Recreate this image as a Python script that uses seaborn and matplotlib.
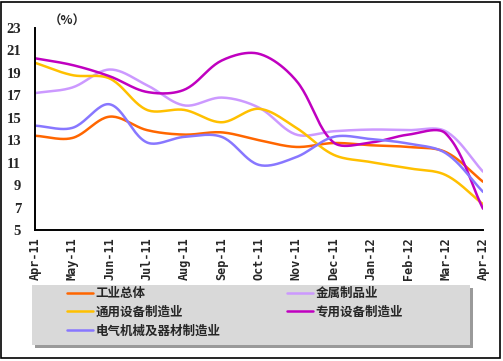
import numpy as np
import pandas as pd
import matplotlib
matplotlib.use("Agg")
import matplotlib.pyplot as plt
import seaborn as sns
from matplotlib.patches import Rectangle

months = ["Apr-11", "May-11", "Jun-11", "Jul-11", "Aug-11", "Sep-11", "Oct-11",
          "Nov-11", "Dec-11", "Jan-12", "Feb-12", "Mar-12", "Apr-12"]
series_names = ["工业总体", "金属制品业", "通用设备制造业", "专用设备制造业", "电气机械及器材制造业"]
industry_total = [13.4, 13.2, 15.1, 13.9, 13.5, 13.7, 13.0, 12.4, 12.75, 12.55, 12.4, 11.95, 9.3]
metal_products = [17.2, 17.7, 19.3, 17.9, 16.1, 16.8, 15.9, 13.5, 13.8, 13.95, 13.9, 13.8, 10.2]
general_equip = [19.9, 18.8, 18.5, 15.7, 15.7, 14.6, 15.8, 14.1, 11.7, 11.05, 10.5, 9.9, 7.3]
special_equip = [20.3, 19.7, 18.7, 17.3, 17.5, 20.1, 20.7, 18.3, 12.8, 12.8, 13.5, 13.6, 6.9]
electrical = [14.3, 14.1, 16.2, 12.8, 13.3, 13.3, 10.8, 11.5, 13.3, 13.1, 12.7, 11.85, 8.4]
yticks = [5, 7, 9, 11, 13, 15, 17, 19, 21, 23]

colors = {"工业总体": "#FF6600", "金属制品业": "#CC99FF", "通用设备制造业": "#FFC000",
          "专用设备制造业": "#C000C0", "电气机械及器材制造业": "#8877FF"}
values = dict(zip(series_names, [industry_total, metal_products, general_equip,
                                 special_equip, electrical]))


def smooth(y, n=24, sx=37.3, sy=11.2):
    """Chord-weighted Bezier smoothing (similar to spreadsheet 'smoothed line')."""
    y = np.asarray(y, float)
    x = np.arange(len(y), dtype=float)
    P = np.column_stack([x, y])
    m = len(y)
    scale = np.array([sx, sy])
    d = np.linalg.norm((P[1:] - P[:-1]) * scale, axis=1)  # segment lengths
    c_out = np.zeros_like(P)
    c_in = np.zeros_like(P)
    c_out[0] = (P[1] - P[0]) / 3
    c_in[-1] = (P[-1] - P[-2]) / 3
    for i in range(1, m - 1):
        tan = P[i + 1] - P[i - 1]
        din, dout = d[i - 1], d[i]
        c_out[i] = tan * dout / (din + dout) / 3
        c_in[i] = tan * din / (din + dout) / 3
    xs, ys = [], []
    t = np.linspace(0, 1, n, endpoint=False)[:, None]
    for i in range(m - 1):
        B0, B3 = P[i], P[i + 1]
        B1, B2 = P[i] + c_out[i], P[i + 1] - c_in[i + 1]
        B = ((1 - t) ** 3) * B0 + 3 * ((1 - t) ** 2) * t * B1 + 3 * (1 - t) * t ** 2 * B2 + t ** 3 * B3
        xs.append(B[:, 0])
        ys.append(B[:, 1])
    xs.append([x[-1]])
    ys.append([y[-1]])
    return np.concatenate(xs), np.concatenate(ys)


rows = []
for name in series_names:
    xs, ys = smooth(values[name])
    rows.append(pd.DataFrame({"x": xs, "y": ys, "series": name}))
df = pd.concat(rows, ignore_index=True)

sns.set_style("white")
plt.rcParams["font.family"] = ["Noto Sans CJK SC", "DejaVu Sans"]

W, H = 503, 361
fig = plt.figure(figsize=(W / 100, H / 100), dpi=100)
ax = fig.add_axes([35 / W, 1 - 230 / H, 448 / W, 202 / H])

sns.lineplot(data=df, x="x", y="y", hue="series", hue_order=series_names,
             palette=colors, sort=False, linewidth=1.8, ax=ax, legend=False)

ax.set_xlim(0, 12)
ax.set_ylim(5, 23)
ax.set_xticks(range(len(months)))
ax.set_xticklabels(months, rotation=90, fontsize=8.5, fontweight="bold",
                   family="DejaVu Sans Mono")
ax.set_yticks(yticks)
ax.set_yticklabels([str(v) for v in yticks], fontsize=10.5, fontweight="bold",
                   family="Liberation Serif")
ax.set_xlabel("")
ax.set_ylabel("")
for s in ["top", "right"]:
    ax.spines[s].set_visible(False)
for s in ["left", "bottom"]:
    ax.spines[s].set_color("black")
    ax.spines[s].set_linewidth(1.4)
ax.tick_params(axis="x", direction="in", length=4, width=1.2, color="black", pad=5)
ax.tick_params(axis="y", direction="out", length=4, width=1.2, color="black", pad=6)

fig.text(67 / W, 1 - 21 / H, "（%）", fontsize=9, fontweight="bold",
         ha="center", va="center")

# legend background with shadow
fig.patches.append(Rectangle((35 / W, 1 - 348 / H), 438 / W, 60 / H,
                             transform=fig.transFigure, facecolor="#9A9A9A",
                             edgecolor="none", zorder=0))
fig.patches.append(Rectangle((32 / W, 1 - 345 / H), 438 / W, 60 / H,
                             transform=fig.transFigure, facecolor="#D9D9D9",
                             edgecolor="none", zorder=0.5))

labels = ["工业总体", "金属制品业", "通用设备制造业", "专用设备制造业", "电气机械及器材制造业"]
handles = [plt.Line2D([], [], color=colors[n], lw=1.8) for n in labels]
order = [0, 2, 4, 1, 3]
leg = fig.legend([handles[i] for i in order], [labels[i] for i in order],
                 ncol=2, loc="upper left",
                 bbox_to_anchor=(67 / W, 1 - 287 / H),
                 prop={"weight": "bold", "size": 9},
                 handlelength=2.1, handletextpad=0.2, labelspacing=0.45,
                 borderpad=0, frameon=False, borderaxespad=0,
                 columnspacing=5.3)

fig.patches.append(Rectangle((1 / W, 3 / H), 499 / W, 356 / H,
                             transform=fig.transFigure, fill=False,
                             edgecolor="black", linewidth=1.2))

fig.savefig("out.png", dpi=100)
